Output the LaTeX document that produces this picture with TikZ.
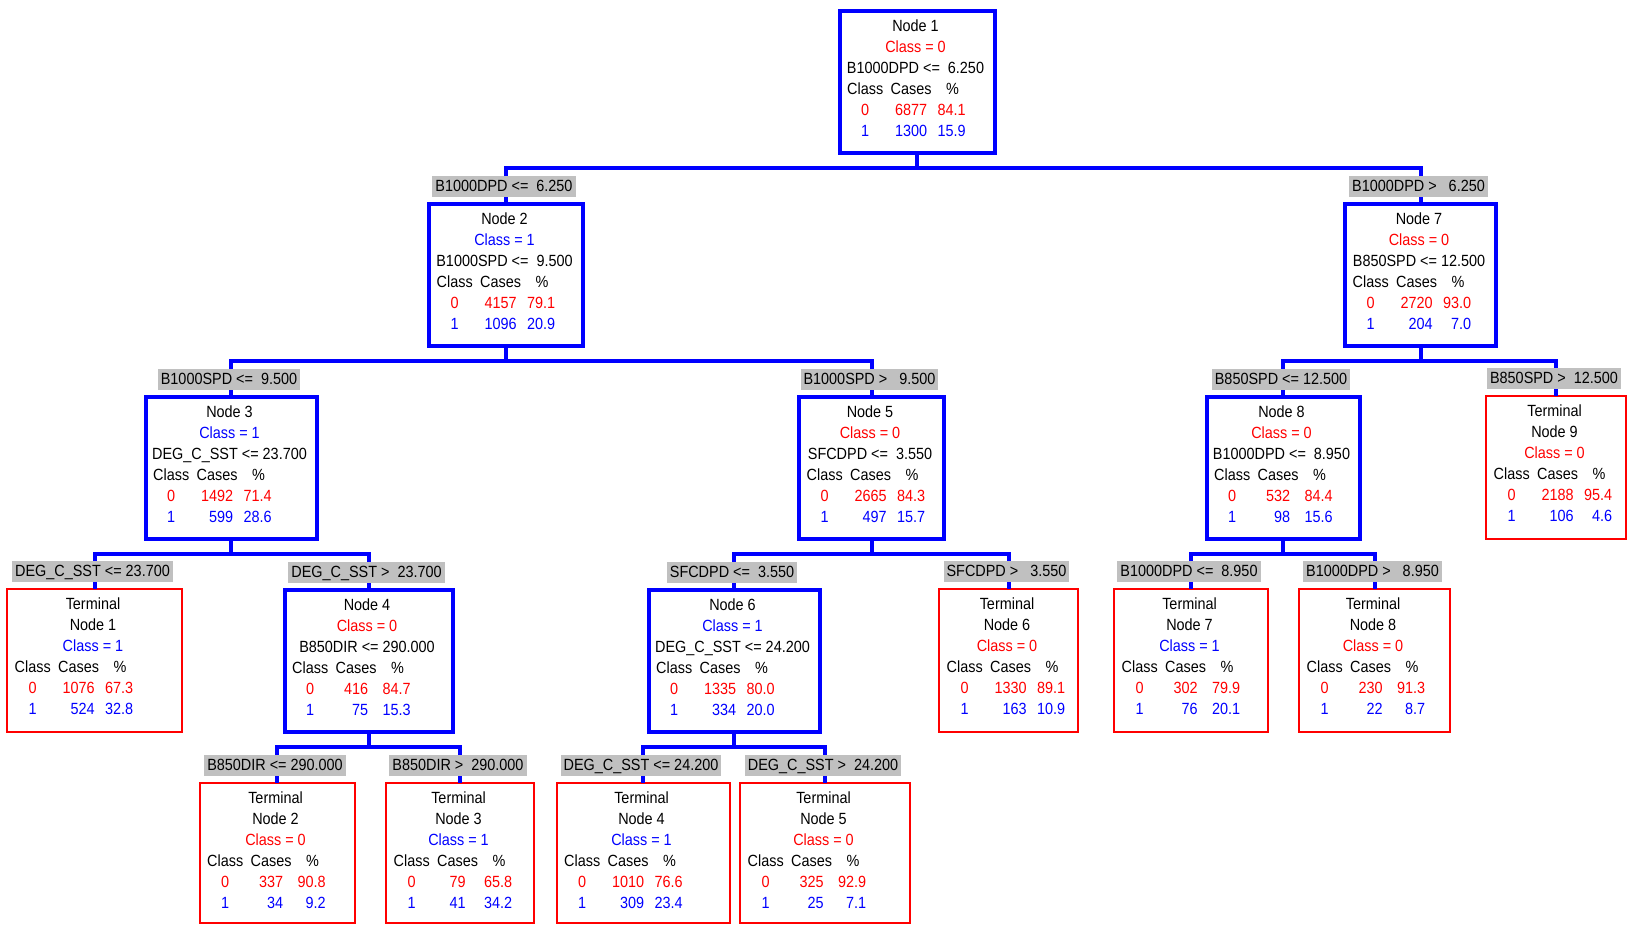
\documentclass[tikz,border=0pt]{standalone}
\usepackage{fontspec}
\setmainfont{Liberation Sans}[FakeStretch=0.89]
\usetikzlibrary{calc}
\definecolor{lblgray}{RGB}{192,192,192}

\tikzset{
  every node/.style={font=\fontsize{16.2}{18}\selectfont},
  splitbox/.style={draw=blue, line width=4pt, inner sep=0pt, outer sep=0pt, anchor=north},
  termbox/.style={draw=red, line width=2pt, inner sep=0pt, outer sep=0pt, anchor=north},
  txt/.style={inner sep=0pt, anchor=base},
  lbl/.style={fill=lblgray, inner xsep=3pt, inner ysep=0pt, minimum height=21pt,
              text height=12pt, text depth=2pt},
  wire/.style={draw=blue, line width=4pt},
}

% split node: name, centre x, outer top, outer width, outer height
\newcommand\splitnode[5]{%
  \node[splitbox, minimum width={(#4-4)*1pt}, minimum height={(#5-4)*1pt}] (#1) at (#2,#3+2) {};}
% terminal node: name, centre x, outer top, outer width, outer height
\newcommand\termnode[5]{%
  \node[termbox, minimum width={(#4-2)*1pt}, minimum height={(#5-2)*1pt}] (#1) at (#2,#3+1) {};}

% text of a node: name, three header lines, cases/percent for class 0 and class 1
\newcommand\boxtext[8]{%
  \node[txt] (#1-l1) at ($(#1.north)+(-1.5,20.5)$) {#2};
  \node[txt] (#1-l2) at ($(#1.north)+(-1.5,41.5)$) {#3};
  \node[txt] (#1-l3) at ($(#1.north)+(-1.5,62.5)$) {#4};
  \node[txt,anchor=base west] (#1-hc) at ($(#1.north west)+(7.5,83.5)$) {Class};
  \node[txt,anchor=base west] (#1-hn) at ($(#1.north west)+(51,83.5)$) {Cases};
  \node[txt,anchor=base west] (#1-hp) at ($(#1.north west)+(106.5,83.5)$) {\%};
  \node[txt,text=red]  (#1-k0) at ($(#1-hc.base)+(0,21)$) {0};
  \node[txt,text=blue] (#1-k1) at ($(#1-hc.base)+(0,42)$) {1};
  \node[txt,text=red]  (#1-n0) at ($(#1-hn.base)+(0,21)$) {#5};
  \node[txt,text=blue,anchor=base east] (#1-n1) at ($(#1-n0.base east)+(0,21)$) {#7};
  \node[txt,text=red,anchor=base east]  (#1-p0) at ($(#1.north west)+(126.3,104.5)$) {#6};
  \node[txt,text=blue,anchor=base east] (#1-p1) at ($(#1.north west)+(126.3,125.5)$) {#8};
}
\newcommand\czero{\textcolor{red}{Class = 0}}
\newcommand\cone{\textcolor{blue}{Class = 1}}

% bracket from a parent to its two children, with the split labels on top
\newcommand\branch[5]{%
  \coordinate (#1-j) at ($(#1.south)+(0,15)$);
  \draw[wire] (#1.south) -- (#1-j);
  \draw[wire] (#2.north) |- (#1-j) -| (#3.north);
  \node[lbl] (#2-lbl) at ($(#2.north)+(-2,-18)$) {#4};
  \node[lbl] (#3-lbl) at ($(#3.north)+(-2,-18)$) {#5};
}

\begin{document}
\begin{tikzpicture}[x=1pt,y=-1pt]
\useasboundingbox (0,0) rectangle (1627,926);
\fill[white] (0,0) rectangle (1627,926);

% row 0
\splitnode{n1}{917}{9}{159}{146}
% row 1
\splitnode{n2}{506}{202}{158}{146}
\splitnode{n7}{1420.5}{202}{155}{146}
% row 2
\splitnode{n3}{231}{395}{175}{146}
\splitnode{n5}{871.5}{395}{149}{146}
\splitnode{n8}{1283}{395}{157}{146}
\termnode{t9}{1556}{395}{142}{145}
% row 3
\termnode{t1}{94.5}{588}{177}{145}
\splitnode{n4}{368.5}{588}{172}{146}
\splitnode{n6}{734}{588}{175}{146}
\termnode{t6}{1008.5}{588}{141}{145}
\termnode{t7}{1191}{588}{156}{145}
\termnode{t8}{1374.5}{588}{153}{145}
% row 4
\termnode{t2}{277}{782}{157}{142}
\termnode{t3}{460}{782}{150}{142}
\termnode{t4}{643}{782}{175}{142}
\termnode{t5}{825}{782}{172}{142}

% connectors and split conditions
\branch{n1}{n2}{n7}{B1000DPD <=\ \ 6.250}{B1000DPD >\ \ \ 6.250}
\branch{n2}{n3}{n5}{B1000SPD <=\ \ 9.500}{B1000SPD >\ \ \ 9.500}
\branch{n7}{n8}{t9}{B850SPD <= 12.500}{B850SPD >\ \ 12.500}
\branch{n3}{t1}{n4}{DEG\_C\_SST <= 23.700}{DEG\_C\_SST >\ \ 23.700}
\branch{n5}{n6}{t6}{SFCDPD <=\ \ 3.550}{SFCDPD >\ \ \ 3.550}
\branch{n8}{t7}{t8}{B1000DPD <=\ \ 8.950}{B1000DPD >\ \ \ 8.950}
\branch{n4}{t2}{t3}{B850DIR <= 290.000}{B850DIR >\ \ 290.000}
\branch{n6}{t4}{t5}{DEG\_C\_SST <= 24.200}{DEG\_C\_SST >\ \ 24.200}

% node contents
\boxtext{n1}{Node 1}{\czero}{B1000DPD <=\ \ 6.250}{6877}{84.1}{1300}{15.9}
\boxtext{n2}{Node 2}{\cone}{B1000SPD <=\ \ 9.500}{4157}{79.1}{1096}{20.9}
\boxtext{n7}{Node 7}{\czero}{B850SPD <= 12.500}{2720}{93.0}{204}{7.0}
\boxtext{n3}{Node 3}{\cone}{DEG\_C\_SST <= 23.700}{1492}{71.4}{599}{28.6}
\boxtext{n5}{Node 5}{\czero}{SFCDPD <=\ \ 3.550}{2665}{84.3}{497}{15.7}
\boxtext{n8}{Node 8}{\czero}{B1000DPD <=\ \ 8.950}{532}{84.4}{98}{15.6}
\boxtext{t9}{Terminal}{Node 9}{\czero}{2188}{95.4}{106}{4.6}
\boxtext{t1}{Terminal}{Node 1}{\cone}{1076}{67.3}{524}{32.8}
\boxtext{n4}{Node 4}{\czero}{B850DIR <= 290.000}{416}{84.7}{75}{15.3}
\boxtext{n6}{Node 6}{\cone}{DEG\_C\_SST <= 24.200}{1335}{80.0}{334}{20.0}
\boxtext{t6}{Terminal}{Node 6}{\czero}{1330}{89.1}{163}{10.9}
\boxtext{t7}{Terminal}{Node 7}{\cone}{302}{79.9}{76}{20.1}
\boxtext{t8}{Terminal}{Node 8}{\czero}{230}{91.3}{22}{8.7}
\boxtext{t2}{Terminal}{Node 2}{\czero}{337}{90.8}{34}{9.2}
\boxtext{t3}{Terminal}{Node 3}{\cone}{79}{65.8}{41}{34.2}
\boxtext{t4}{Terminal}{Node 4}{\cone}{1010}{76.6}{309}{23.4}
\boxtext{t5}{Terminal}{Node 5}{\czero}{325}{92.9}{25}{7.1}
\end{tikzpicture}
\end{document}
